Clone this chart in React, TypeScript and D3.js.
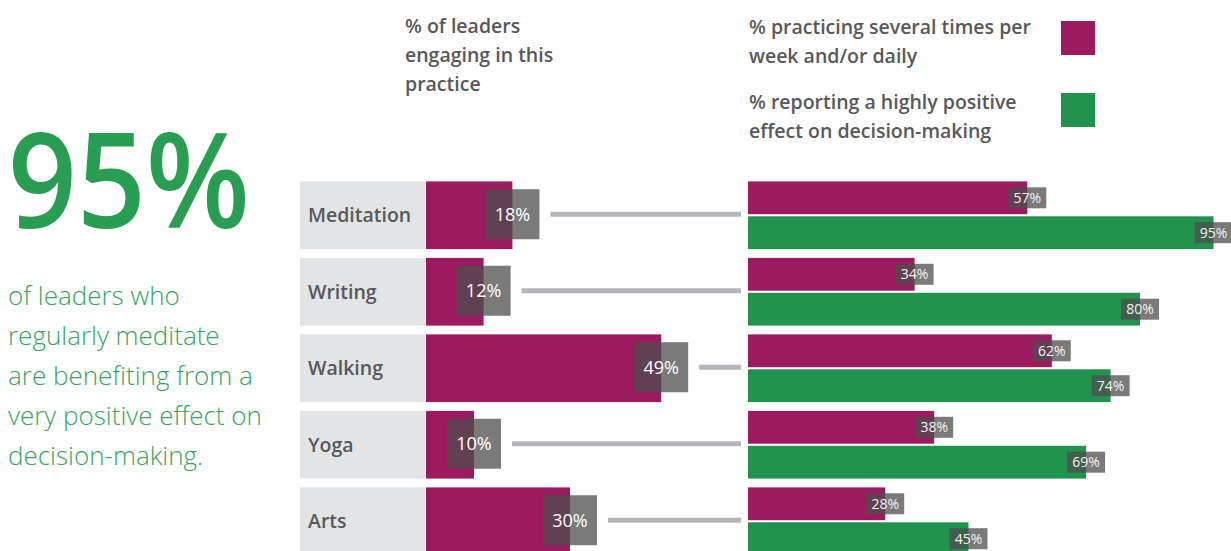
import React from 'react';
import * as d3 from 'd3';

// practices and survey values (%)
const categories = ['Meditation', 'Writing', 'Walking', 'Yoga', 'Arts'];
const engaging = [18, 12, 49, 10, 30];
const practicing = [57, 34, 62, 38, 28];
const positive = [95, 80, 74, 69, 45];

const headerLines = ['% of leaders', 'engaging in this', 'practice'];
const legendPracticing = ['% practicing several times per', 'week and/or daily'];
const legendPositive = ['% reporting a highly positive', 'effect on decision-making'];
const bigNumber = '95%';
const blurbLines = [
  'of leaders who',
  'regularly meditate',
  'are benefiting from a',
  'very positive effect on',
  'decision-making.',
];

const colors = {
  magenta: '#9c1a5f',
  green: '#22934e',
  bigGreen: '#2a9d55',
  blurbGreen: '#3aa360',
  labelBg: '#e3e4e6',
  text: '#58585a',
  tag: '#4d4d4d',
  connector: '#b5b6ba',
};

const font = '"Open Sans", "Noto Sans", sans-serif';

export default function App() {
  const W = 1231, H = 551;

  const y = d3.scaleBand<string>()
    .domain(categories)
    .range([177, 177 + 76.5 * 5])
    .paddingInner(0.115)
    .paddingOuter(0.0575);

  const xLeft = d3.scaleLinear().domain([0, 100]).range([426, 906]);
  const xRight = d3.scaleLinear().domain([0, 100]).range([748, 1238]);

  const sub = d3.scaleBand<string>()
    .domain(['practicing', 'positive'])
    .range([0, y.bandwidth()])
    .paddingInner(0.06);

  const rows = categories.map((c, i) => ({
    cat: c,
    engaging: engaging[i],
    practicing: practicing[i],
    positive: positive[i],
  }));

  const bigTag = { w: 54, h: 50 };
  const smallTag = { w: 38, h: 21 };

  return (
    <svg width={W} height={H} style={{ position: 'absolute', left: 0, top: 0 }}
      fontFamily={font}>
      <rect width={W} height={H} fill="#fff" />

      {/* left callout */}
      <text x={8} y={228} fontSize={132} fontWeight={600} fill={colors.bigGreen}
        textLength={242} lengthAdjust="spacingAndGlyphs">
        {bigNumber}
      </text>
      {blurbLines.map((t, i) => (
        <text key={t} x={8} y={305 + i * 40} fontSize={26} fontWeight={300}
          fill={colors.blurbGreen}>{t}</text>
      ))}

      {/* column header */}
      {headerLines.map((t, i) => (
        <text key={t} x={405} y={33 + i * 29} fontSize={19.5} fontWeight={600}
          fill={colors.text}>{t}</text>
      ))}

      {/* legend */}
      {legendPracticing.map((t, i) => (
        <text key={t} x={749} y={34 + i * 29} fontSize={19.5} fontWeight={600}
          fill={colors.text}>{t}</text>
      ))}
      {legendPositive.map((t, i) => (
        <text key={t} x={749} y={109 + i * 29} fontSize={19.5} fontWeight={600}
          fill={colors.text}>{t}</text>
      ))}
      <rect x={1061} y={21} width={34} height={34} fill={colors.magenta} />
      <rect x={1061} y={93} width={34} height={34} fill={colors.green} />

      {rows.map(d => {
        const top = y(d.cat)!;
        const bh = y.bandwidth();
        const cy = top + bh / 2;
        const endL = xLeft(d.engaging);
        const tagRight = endL + bigTag.w / 2;
        return (
          <g key={d.cat}>
            {/* category label */}
            <rect x={300} y={top} width={125} height={bh} fill={colors.labelBg} />
            <text x={308} y={cy} dy="0.35em" fontSize={19.5} fontWeight={600}
              fill={colors.text}>{d.cat}</text>

            {/* engaging bar */}
            <rect x={xLeft(0)} y={top} width={endL - xLeft(0)} height={bh}
              fill={colors.magenta} />
            <rect x={endL - bigTag.w / 2} y={cy - bigTag.h / 2 - 1} width={bigTag.w}
              height={bigTag.h} fill={colors.tag} fillOpacity={0.75} />
            <text x={endL} y={cy - 1} dy="0.36em" textAnchor="middle" fontSize={18}
              fontWeight={500} fill="#fff">{d.engaging}%</text>

            {/* connector */}
            <rect x={tagRight + 11} y={cy - 3.5} width={741 - tagRight - 11} height={5}
              fill={colors.connector} />

            {/* right pair */}
            {(['practicing', 'positive'] as const).map(k => {
              const v = d[k];
              const sy = top + sub(k)!;
              const sh = sub.bandwidth();
              const end = xRight(v);
              const scy = sy + sh / 2;
              return (
                <g key={k}>
                  <rect x={xRight(0)} y={sy} width={end - xRight(0)} height={sh}
                    fill={k === 'practicing' ? colors.magenta : colors.green} />
                  <rect x={end - smallTag.w / 2} y={scy - smallTag.h / 2}
                    width={smallTag.w} height={smallTag.h} fill={colors.tag}
                    fillOpacity={0.75} />
                  <text x={end} y={scy} dy="0.36em" textAnchor="middle" fontSize={14}
                    fontWeight={500} fill="#f4f4f4">{v}%</text>
                </g>
              );
            })}
          </g>
        );
      })}
    </svg>
  );
}
